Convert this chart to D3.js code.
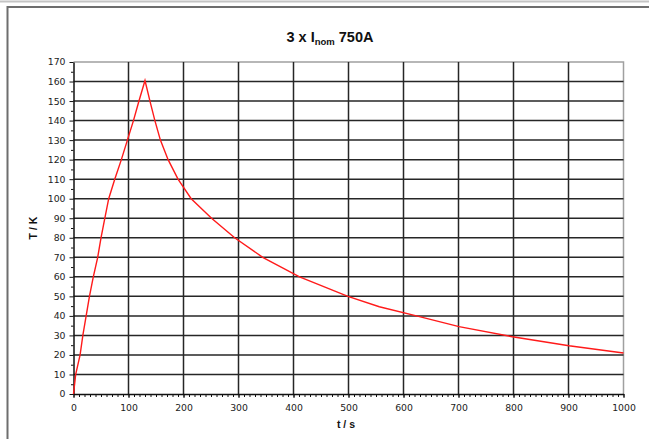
<!DOCTYPE html>
<meta charset="utf-8">
<title>3 x Inom 750A</title>
<style>
body {
  margin: 0px;
  background: #fff;
}
svg {
  display: block;
  font-family: "Liberation Sans", Arial, sans-serif;
}
.grid line {
  stroke: #262626;
  stroke-width: 1.5;
}
.axis text {
  font-family: "DejaVu Sans", sans-serif;
  font-size: 9.3px;
  fill: #222;
}
.axis path, .axis line {
  stroke: #111;
}
path.curve {
  fill: none;
  stroke: #ff1a1a;
  stroke-width: 1.4;
}
</style>
<script src="https://d3js.org/d3.v7.min.js"></script>
<body>
<script>
var width = 649, height = 439;

// time in s, temperature rise in K
var tValues = [0, 4, 12, 17, 23, 29, 36, 44, 50, 57, 64, 75, 87, 98, 109, 119, 130,
               139, 148, 158, 172, 190, 214, 251, 293, 344, 411, 499, 556, 629, 701, 798, 901, 1000];
var TValues = [0, 10, 20, 30, 40, 50, 60, 70, 80, 90, 100, 110, 120, 130, 140, 150, 160.5,
               150, 140, 130, 120, 110, 100, 90, 80, 70, 60, 50, 44.7, 39.6, 34.5, 29.3, 24.7, 21];
var xTicks = [0, 100, 200, 300, 400, 500, 600, 700, 800, 900, 1000];
var yTicks = [0, 10, 20, 30, 40, 50, 60, 70, 80, 90, 100, 110, 120, 130, 140, 150, 160, 170];

// plot area edges (window.top is reserved, so prefixed names)
var pLeft = 73.5, pRight = 623.5, pTop = 62, pBottom = 394;

var svg = d3.select("body").append("svg")
    .attr("width", width)
    .attr("height", height);

// page frame
svg.append("line").attr("x1", 0).attr("x2", width).attr("y1", 1.5).attr("y2", 1.5)
    .attr("stroke", "#c4c4c4").attr("stroke-width", 2);
svg.append("path").attr("d", "M7.5," + height + "V7H" + width)
    .attr("fill", "none").attr("stroke", "#6e6e6e").attr("stroke-width", 2);

var x = d3.scaleLinear().domain([0, 1000]).range([pLeft, pRight]);
var y = d3.scaleLinear().domain([0, 170]).range([pBottom, pTop]);

// plot border (top / right in grey)
svg.append("path").attr("d", "M" + pLeft + "," + pTop + "H" + pRight + "V" + pBottom)
    .attr("fill", "none").attr("stroke", "#a0a0a0").attr("stroke-width", 1.5);

// grid
var grid = svg.append("g").attr("class", "grid");
grid.selectAll("line.h")
    .data(yTicks.filter(function(d) { return d > 0 && d < 170; }))
  .enter().append("line")
    .attr("class", "h")
    .attr("x1", pLeft).attr("x2", pRight)
    .attr("y1", function(d) { return y(d); })
    .attr("y2", function(d) { return y(d); });
grid.selectAll("line.v")
    .data(xTicks.filter(function(d) { return d > 0 && d < 1000; }))
  .enter().append("line")
    .attr("class", "v")
    .attr("y1", pTop).attr("y2", pBottom)
    .attr("x1", function(d) { return x(d); })
    .attr("x2", function(d) { return x(d); });

// minor ticks
svg.append("g").attr("class", "axis")
    .attr("transform", "translate(0," + pBottom + ")")
    .call(d3.axisBottom(x).tickValues(d3.range(0, 1001, 10)).tickSize(3).tickFormat(""))
    .select(".domain").remove();
svg.append("g").attr("class", "axis")
    .attr("transform", "translate(" + pLeft + ",0)")
    .call(d3.axisLeft(y).tickValues(d3.range(5, 170, 10)).tickSize(2.5).tickFormat(""))
    .select(".domain").remove();

// major axes
var xAxis = svg.append("g").attr("class", "axis")
    .attr("transform", "translate(0," + pBottom + ")")
    .call(d3.axisBottom(x).tickValues(xTicks).tickSize(4).tickPadding(6)
      .tickSizeOuter(0).tickFormat(d3.format("d")));
var yAxis = svg.append("g").attr("class", "axis")
    .attr("transform", "translate(" + pLeft + ",0)")
    .call(d3.axisLeft(y).tickValues(yTicks).tickSize(4).tickPadding(4)
      .tickSizeOuter(0).tickFormat(d3.format("d")));
xAxis.select(".domain").attr("stroke-width", 1.5);
yAxis.select(".domain").attr("stroke-width", 1.5);

// curve
var line = d3.line()
    .x(function(d, i) { return x(tValues[i]); })
    .y(function(d) { return y(d); });
svg.append("path")
    .attr("class", "curve")
    .attr("d", line(TValues));

// title
var title = svg.append("text")
    .attr("x", 330).attr("y", 42)
    .attr("text-anchor", "middle")
    .attr("font-size", "14.5px")
    .attr("font-weight", "bold")
    .attr("fill", "#111");
title.append("tspan").text("3 x I");
title.append("tspan").attr("font-size", "9.5px").attr("dy", 3).text("nom");
title.append("tspan").attr("dy", -3).text(" 750A");

// axis titles
svg.append("text")
    .attr("transform", "translate(37,228) rotate(-90)")
    .attr("text-anchor", "middle")
    .attr("font-size", "10.5px")
    .attr("font-weight", "bold")
    .attr("fill", "#111")
    .text("T / K");
svg.append("text")
    .attr("x", 346).attr("y", 428)
    .attr("text-anchor", "middle")
    .attr("font-size", "10.5px")
    .attr("font-weight", "bold")
    .attr("fill", "#111")
    .text("t / s");
</script>
